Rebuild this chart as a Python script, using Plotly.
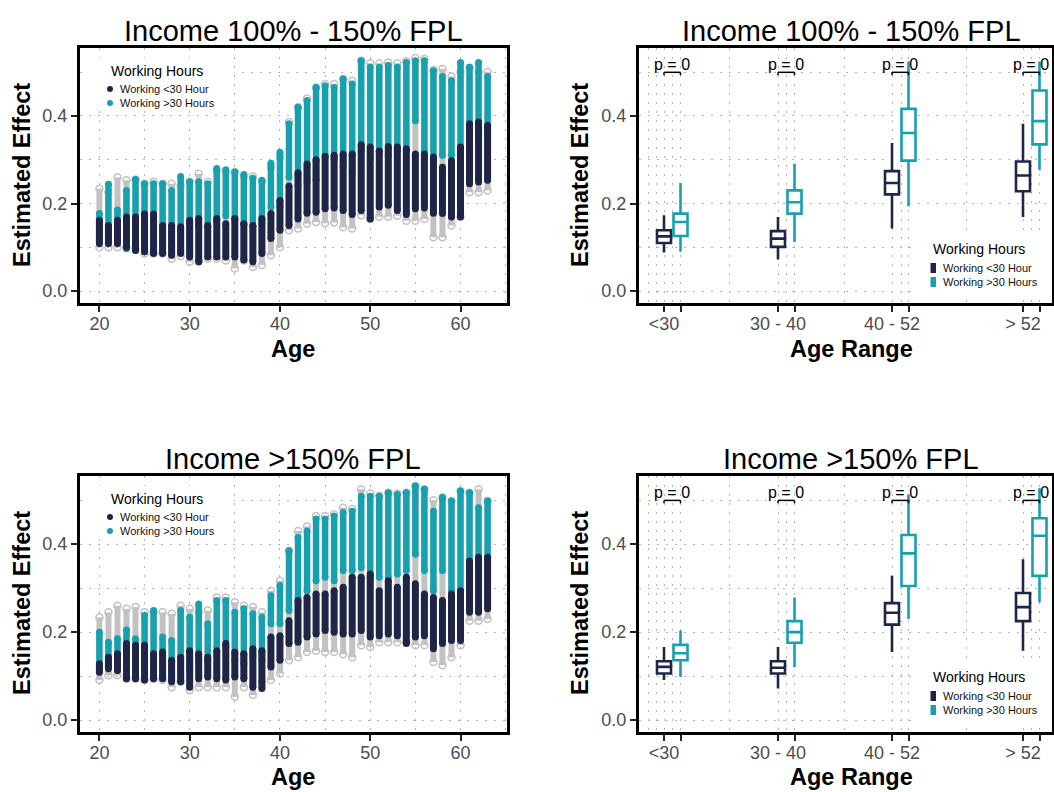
import plotly.graph_objects as go

W, H = 1054, 792
NAVY = "#1f2547"
TEAL = "#17a1af"
GRAY = "#c2c2c2"
FONT = "Liberation Sans, Arial, sans-serif"

ages = list(range(20, 64))

# ---------------- Income 100% - 150% FPL (scatter) ----------------
tl_navy_lo = [0.109, 0.109, 0.109, 0.100, 0.093, 0.090, 0.086, 0.086, 0.082, 0.086,
              0.078, 0.067, 0.078, 0.078, 0.078, 0.078, 0.071, 0.067, 0.086, 0.120,
              0.139, 0.150, 0.165, 0.178, 0.180, 0.188, 0.190, 0.184, 0.175, 0.184,
              0.165, 0.192, 0.196, 0.184, 0.175, 0.188, 0.190, 0.178, 0.177, 0.169,
              0.169, 0.245, 0.249, 0.253]
tl_navy_hi = [0.162, 0.150, 0.162, 0.169, 0.169, 0.176, 0.176, 0.150, 0.150, 0.147,
              0.162, 0.166, 0.150, 0.166, 0.154, 0.166, 0.154, 0.150, 0.166, 0.177,
              0.207, 0.240, 0.270, 0.290, 0.300, 0.308, 0.310, 0.313, 0.313, 0.334,
              0.329, 0.320, 0.330, 0.329, 0.325, 0.313, 0.313, 0.306, 0.283, 0.298,
              0.329, 0.382, 0.386, 0.378]
tl_teal_lo = [0.123, 0.124, 0.116, 0.097, 0.100, 0.093, 0.093, 0.100, 0.100, 0.093,
              0.090, 0.147, 0.147, 0.161, 0.172, 0.166, 0.154, 0.147, 0.154, 0.192,
              0.192, 0.260, 0.240, 0.250, 0.253, 0.313, 0.300, 0.283, 0.270, 0.320,
              0.300, 0.320, 0.310, 0.320, 0.320, 0.389, 0.320, 0.300, 0.310, 0.310,
              0.290, 0.374, 0.350, 0.360]
tl_teal_hi = [0.177, 0.244, 0.185, 0.230, 0.255, 0.245, 0.245, 0.245, 0.230, 0.262,
              0.250, 0.250, 0.245, 0.280, 0.277, 0.272, 0.266, 0.258, 0.253, 0.292,
              0.317, 0.382, 0.420, 0.435, 0.465, 0.469, 0.465, 0.484, 0.473, 0.526,
              0.511, 0.511, 0.515, 0.511, 0.522, 0.526, 0.526, 0.503, 0.490, 0.480,
              0.522, 0.511, 0.522, 0.490]
tl_gray_lo = [0.100, 0.100, 0.100, 0.100, 0.095, 0.086, 0.086, 0.086, 0.074, 0.080,
              0.067, 0.067, 0.074, 0.074, 0.070, 0.052, 0.070, 0.055, 0.060, 0.082,
              0.100, 0.139, 0.143, 0.154, 0.158, 0.155, 0.157, 0.146, 0.143, 0.173,
              0.165, 0.170, 0.170, 0.172, 0.161, 0.161, 0.165, 0.123, 0.123, 0.150,
              0.170, 0.226, 0.226, 0.230]
tl_gray_hi = [0.234, 0.226, 0.260, 0.253, 0.255, 0.245, 0.250, 0.245, 0.245, 0.240,
              0.250, 0.268, 0.250, 0.275, 0.272, 0.272, 0.262, 0.262, 0.250, 0.283,
              0.306, 0.386, 0.420, 0.440, 0.465, 0.473, 0.473, 0.484, 0.480, 0.526,
              0.520, 0.520, 0.522, 0.520, 0.525, 0.532, 0.530, 0.505, 0.507, 0.490,
              0.500, 0.510, 0.500, 0.500]

# ---------------- Income >150% FPL (scatter) ----------------
bl_navy_lo = [0.109, 0.117, 0.113, 0.094, 0.094, 0.091, 0.094, 0.094, 0.087, 0.087,
              0.075, 0.094, 0.098, 0.094, 0.091, 0.098, 0.094, 0.075, 0.072, 0.121,
              0.136, 0.174, 0.177, 0.189, 0.196, 0.204, 0.200, 0.196, 0.196, 0.204,
              0.189, 0.192, 0.196, 0.192, 0.174, 0.189, 0.192, 0.162, 0.174, 0.181,
              0.181, 0.245, 0.245, 0.253]
bl_navy_hi = [0.128, 0.143, 0.151, 0.174, 0.170, 0.170, 0.151, 0.155, 0.136, 0.143,
              0.158, 0.151, 0.143, 0.158, 0.174, 0.155, 0.151, 0.162, 0.158, 0.189,
              0.192, 0.226, 0.272, 0.279, 0.287, 0.287, 0.294, 0.302, 0.325, 0.325,
              0.332, 0.294, 0.317, 0.302, 0.325, 0.310, 0.287, 0.279, 0.272, 0.287,
              0.294, 0.362, 0.370, 0.370]
bl_teal_lo = [0.121, 0.121, 0.121, 0.128, 0.113, 0.113, 0.098, 0.098, 0.094, 0.106,
              0.113, 0.136, 0.136, 0.166, 0.166, 0.136, 0.128, 0.143, 0.136, 0.219,
              0.219, 0.249, 0.279, 0.294, 0.317, 0.325, 0.317, 0.340, 0.340, 0.347,
              0.325, 0.325, 0.325, 0.332, 0.340, 0.377, 0.340, 0.294, 0.340, 0.294,
              0.294, 0.355, 0.347, 0.370]
bl_teal_hi = [0.200, 0.177, 0.185, 0.205, 0.185, 0.238, 0.249, 0.189, 0.181, 0.249,
              0.234, 0.264, 0.219, 0.272, 0.272, 0.245, 0.253, 0.242, 0.234, 0.283,
              0.306, 0.385, 0.415, 0.430, 0.457, 0.457, 0.464, 0.472, 0.475, 0.509,
              0.509, 0.509, 0.517, 0.513, 0.517, 0.532, 0.525, 0.475, 0.506, 0.498,
              0.521, 0.517, 0.483, 0.498]
bl_gray_lo = [0.091, 0.102, 0.102, 0.094, 0.094, 0.091, 0.094, 0.091, 0.075, 0.087,
              0.068, 0.075, 0.075, 0.075, 0.075, 0.053, 0.075, 0.057, 0.087, 0.091,
              0.106, 0.136, 0.143, 0.155, 0.158, 0.155, 0.155, 0.150, 0.143, 0.170,
              0.166, 0.177, 0.177, 0.177, 0.177, 0.170, 0.170, 0.132, 0.125, 0.143,
              0.170, 0.226, 0.226, 0.230]
bl_gray_hi = [0.234, 0.245, 0.260, 0.253, 0.257, 0.245, 0.245, 0.245, 0.242, 0.260,
              0.253, 0.245, 0.249, 0.279, 0.279, 0.268, 0.260, 0.257, 0.245, 0.294,
              0.317, 0.385, 0.430, 0.440, 0.464, 0.464, 0.468, 0.483, 0.480, 0.525,
              0.515, 0.510, 0.517, 0.515, 0.517, 0.532, 0.525, 0.500, 0.506, 0.498,
              0.521, 0.517, 0.525, 0.498]

# ---------------- Box plot summaries ----------------
age_ranges = ["<30", "30 - 40", "40 - 52", "> 52"]
hours_groups = ["Working <30 Hour", "Working >30 Hours"]
p_labels = ["p = 0", "p = 0", "p = 0", "p = 0"]

tr_navy = dict(lo=[0.088, 0.072, 0.143, 0.169], q1=[0.110, 0.101, 0.221, 0.228],
               med=[0.125, 0.120, 0.247, 0.264], q3=[0.139, 0.137, 0.274, 0.296],
               hi=[0.173, 0.169, 0.338, 0.382])
tr_teal = dict(lo=[0.090, 0.112, 0.194, 0.276], q1=[0.126, 0.177, 0.298, 0.335],
               med=[0.158, 0.203, 0.361, 0.388], q3=[0.177, 0.230, 0.416, 0.458],
               hi=[0.247, 0.291, 0.524, 0.524])
br_navy = dict(lo=[0.091, 0.072, 0.155, 0.158], q1=[0.106, 0.106, 0.217, 0.225],
               med=[0.121, 0.119, 0.244, 0.257], q3=[0.134, 0.134, 0.266, 0.289],
               hi=[0.166, 0.166, 0.328, 0.366])
br_teal = dict(lo=[0.098, 0.121, 0.230, 0.268], q1=[0.136, 0.176, 0.305, 0.328],
               med=[0.152, 0.200, 0.379, 0.419], q3=[0.171, 0.225, 0.421, 0.459],
               hi=[0.204, 0.279, 0.513, 0.527])

# ---------------- layout helpers ----------------
def PX(x):
    return x / W


def PY(y):
    return 1 - y / H


# box positions along right-panel axis (pixel units from panel left edge)
NAVY_POS = [25, 139, 253, 384]
TEAL_POS = [p + 16.5 for p in NAVY_POS]

fig = go.Figure()


def segs(lo, hi):
    xs, ys = [], []
    for a, l, h in zip(ages, lo, hi):
        xs += [a, a, None]
        ys += [l, h, None]
    return xs, ys


def add_scatter(ax, gl, gh, tl, th, nl, nh):
    x, y = segs(gl, gh)
    fig.add_trace(go.Scatter(x=x, y=y, mode="lines+markers", xaxis="x" + ax, yaxis="y" + ax,
                             line=dict(color=GRAY, width=6),
                             marker=dict(symbol="circle-open", size=7, color=GRAY, line=dict(width=1.5)),
                             showlegend=False, hoverinfo="skip"))
    x, y = segs(tl, th)
    fig.add_trace(go.Scatter(x=x, y=y, mode="lines+markers", xaxis="x" + ax, yaxis="y" + ax,
                             line=dict(color=TEAL, width=6.5),
                             marker=dict(size=7, color=TEAL),
                             showlegend=False, hoverinfo="skip"))
    x, y = segs(nl, nh)
    fig.add_trace(go.Scatter(x=x, y=y, mode="lines+markers", xaxis="x" + ax, yaxis="y" + ax,
                             line=dict(color=NAVY, width=7),
                             marker=dict(size=7, color=NAVY),
                             showlegend=False, hoverinfo="skip"))


def add_boxes(ax, nv, tv):
    for pos, d, col, name in [(NAVY_POS, nv, NAVY, hours_groups[0]), (TEAL_POS, tv, TEAL, hours_groups[1])]:
        fig.add_trace(go.Box(x=pos, q1=d["q1"], median=d["med"], q3=d["q3"],
                             lowerfence=d["lo"], upperfence=d["hi"], name=name,
                             width=14, whiskerwidth=0, boxpoints=False,
                             line=dict(color=col, width=2.6), fillcolor="white",
                             xaxis="x" + ax, yaxis="y" + ax, showlegend=False, hoverinfo="skip"))


add_scatter("", tl_gray_lo, tl_gray_hi, tl_teal_lo, tl_teal_hi, tl_navy_lo, tl_navy_hi)
add_boxes("2", tr_navy, tr_teal)
add_scatter("3", bl_gray_lo, bl_gray_hi, bl_teal_lo, bl_teal_hi, bl_navy_lo, bl_navy_hi)
add_boxes("4", br_navy, br_teal)

GRID = dict(showgrid=True, gridcolor="#b5b5b5", gridwidth=1.2, griddash="2px,7px")
common = dict(showline=True, mirror=True, linecolor="black", linewidth=3,
              ticks="outside", ticklen=6, tickwidth=2, tickcolor="#222",
              tickfont=dict(family=FONT, size=18, color="#4d4d4d"), zeroline=False, **GRID)

yax = dict(range=[-0.027, 0.555], tickvals=[0, 0.2, 0.4], ticktext=["0.0", "0.2", "0.4"],
           minor=dict(tickvals=[0.1, 0.3, 0.5], showgrid=True, gridcolor="#b5b5b5",
                      gridwidth=1.2, griddash="2px,7px", ticks=""), **common)
xleft = dict(range=[17.85, 65.15], tickvals=[20, 30, 40, 50, 60], ticklabelstandoff=-4,
             minor=dict(tickvals=[25, 35, 45, 55, 65], showgrid=True, gridcolor="#b5b5b5",
                        gridwidth=1.2, griddash="2px,7px", ticks=""), **common)
xright_vals = []
xright_text = []
for n, t, lab in zip(NAVY_POS, TEAL_POS, age_ranges):
    xright_vals += [n, t]
    xright_text += [lab, ""]
xright = dict(range=[0, 413], tickvals=xright_vals, ticktext=xright_text, ticklabelstandoff=-4,
              minor=dict(tickvals=[9, 17, 33, 90, 147, 205, 262, 327, 392], showgrid=True,
                         gridcolor="#b5b5b5", gridwidth=1.2, griddash="2px,7px", ticks=""),
              **common)

top_dom = [PY(303), PY(48)]
bot_dom = [PY(732), PY(476)]
left_dom = [PX(80), PX(507)]
right_dom = [PX(639), PX(1052)]

fig.update_layout(
    width=W, height=H, margin=dict(l=0, r=0, t=0, b=0),
    paper_bgcolor="white", plot_bgcolor="white", boxmode="overlay",
    font=dict(family=FONT),
    xaxis=dict(domain=left_dom, anchor="y", **xleft),
    yaxis=dict(domain=top_dom, anchor="x", **yax),
    xaxis2=dict(domain=right_dom, anchor="y2", **xright),
    yaxis2=dict(domain=top_dom, anchor="x2", **yax),
    xaxis3=dict(domain=left_dom, anchor="y3", **xleft),
    yaxis3=dict(domain=bot_dom, anchor="x3", **yax),
    xaxis4=dict(domain=right_dom, anchor="y4", **xright),
    yaxis4=dict(domain=bot_dom, anchor="x4", **yax),
)

ann = []
shapes = []


def text(x, y, s, size, bold=False, anchor="center", angle=0, color="black"):
    ann.append(dict(x=PX(x), y=PY(y), xref="paper", yref="paper", text=s, showarrow=False,
                    xanchor=anchor, yanchor="middle", textangle=angle, align="left",
                    font=dict(family=FONT, size=size, color=color,
                              weight="bold" if bold else "normal")))


titles = ["Income 100% - 150% FPL", "Income >150% FPL"]
for i, dy in enumerate([0, 428]):
    text(293, 31 + dy, titles[i], 29)
    text(851, 31 + dy, titles[i], 29)
    text(22, 175 + dy, "Estimated Effect", 23.5, bold=True, angle=-90)
    text(580, 175 + dy, "Estimated Effect", 23.5, bold=True, angle=-90)
    text(293, 349 + dy, "Age", 23.5, bold=True)
    text(851, 349 + dy, "Age Range", 23.5, bold=True)

    # legend inside scatter panel
    shapes.append(dict(type="rect", xref="paper", yref="paper", x0=PX(88), x1=PX(234),
                       y0=PY(58 + dy), y1=PY(111 + dy), fillcolor="white", line=dict(width=0),
                       layer="above"))
    text(109, 71 + dy, "Working Hours", 14, anchor="left")
    for k, col in enumerate([NAVY, TEAL]):
        yy = 89 + 14 * k + dy
        shapes.append(dict(type="circle", xref="paper", yref="paper", xsizemode="pixel",
                           ysizemode="pixel", xanchor=PX(110), yanchor=PY(yy),
                           x0=-3, x1=3, y0=-3, y1=3, fillcolor=col, line=dict(width=0),
                           layer="above"))
    text(118, 96 + dy, "<br>".join(hours_groups), 11, anchor="left", color="#111")

    # legend inside box panel
    shapes.append(dict(type="rect", xref="paper", yref="paper", x0=PX(912), x1=PX(1050),
                       y0=PY(236 + dy), y1=PY(296 + dy), fillcolor="white", line=dict(width=0),
                       layer="above"))
    text(931, 249 + dy, "Working Hours", 14, anchor="left")
    for k, col in enumerate([NAVY, TEAL]):
        yy = 268 + 14 * k + dy
        shapes.append(dict(type="rect", xref="paper", yref="paper", x0=PX(930.5), x1=PX(936),
                           y0=PY(yy - 5), y1=PY(yy + 5), fillcolor=col, line=dict(width=0),
                           layer="above"))
    text(941, 275 + dy, "<br>".join(hours_groups), 11, anchor="left", color="#111")

# p-value brackets in box panels
for ax in ["2", "4"]:
    for n, t, lab in zip(NAVY_POS, TEAL_POS, p_labels):
        ref = dict(xref="x" + ax, yref="y" + ax)
        shapes.append(dict(type="line", x0=n, x1=t, y0=0.4995, y1=0.4995,
                           line=dict(color="black", width=1.5), **ref))
        shapes.append(dict(type="line", x0=n, x1=n, y0=0.4995, y1=0.493,
                           line=dict(color="black", width=1.5), **ref))
        shapes.append(dict(type="line", x0=t, x1=t, y0=0.4995, y1=0.493,
                           line=dict(color="black", width=1.5), **ref))
        ann.append(dict(x=(n + t) / 2, y=0.517, text=lab, showarrow=False,
                        xanchor="center", yanchor="middle",
                        font=dict(family=FONT, size=16, color="black"), **ref))

fig.update_layout(annotations=ann, shapes=shapes)
fig.write_html("out.html")
